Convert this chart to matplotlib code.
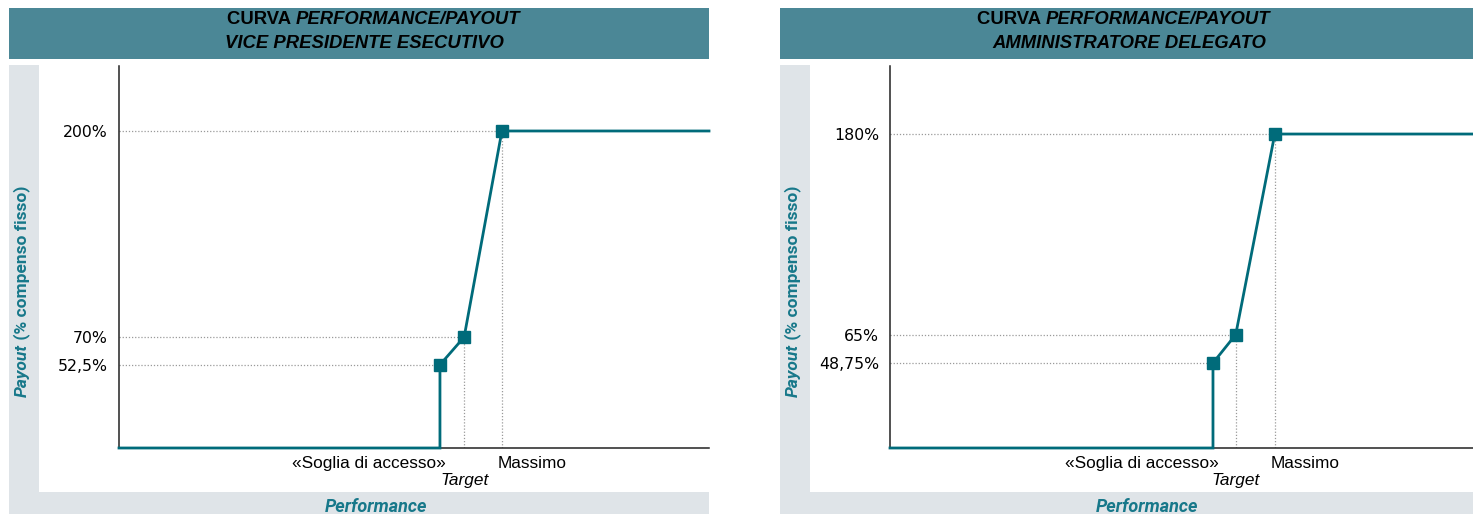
import matplotlib
matplotlib.use('Agg')
import matplotlib.pyplot as plt
from matplotlib.patches import Rectangle

# dati dei due pannelli
titoli = ['VICE PRESIDENTE ESECUTIVO', 'AMMINISTRATORE DELEGATO']
perf_vp = [54.4, 58.5, 64.9]        # soglia, target, massimo (scala 0-100)
payout_vp = [52.5, 70, 200]
etich_vp = ['52,5%', '70%', '200%']
perf_ad = [55.4, 59.3, 66.0]
payout_ad = [48.75, 65, 180]
etich_ad = ['48,75%', '65%', '180%']
note_x = ['«Soglia di accesso»', 'Target', 'Massimo']

W, H = 1473, 514
TEAL = '#006b7a'
BAR = '#4b8796'
GRIGIO = '#dfe4e8'
LAB = '#17788a'
SANS = ['Liberation Sans', 'DejaVu Sans']
TICK = ['Roboto', 'DejaVu Sans']

fig = plt.figure(figsize=(W / 100, H / 100), dpi=100)


def rett(x0, y0, x1, y1, col):
    fig.add_artist(Rectangle((x0 / W, 1 - y1 / H), (x1 - x0) / W, (y1 - y0) / H,
                             transform=fig.transFigure, color=col, lw=0, zorder=0))


def pannello(px0, px1, ax0, perf, payout, etich, titolo, ytop, split_x, cx):
    # sfondi
    rett(px0, 8, px1, 59, BAR)
    rett(px0, 65, px1, H, GRIGIO)
    rett(px0 + 30, 65, px1, 492, 'white')

    # titolo su due righe (stili misti)
    fig.text(split_x / W, 1 - 20 / H, 'CURVA ', ha='right', va='center',
             fontsize=13.3, fontweight='bold', family=SANS)
    fig.text(split_x / W, 1 - 20 / H, 'PERFORMANCE/PAYOUT', ha='left', va='center',
             fontsize=13.3, fontweight='bold', style='italic', family=SANS)
    fig.text(cx / W, 1 - 43 / H, titolo, ha='center', va='center',
             fontsize=13.3, fontweight='bold', style='italic', family=SANS)

    # etichetta asse y
    lx = px0 + 13
    fig.text(lx / W, 1 - 344 / H, 'Payout', rotation=90, ha='center', va='top',
             fontsize=12.5, fontweight='bold', style='italic', color=LAB, family=TICK)
    fig.text(lx / W, 1 - 344 / H, ' (% compenso fisso)', rotation=90, ha='center',
             va='bottom', fontsize=12.5, fontweight='bold', color=LAB, family=TICK)
    # etichetta asse x
    fig.text((px0 + 367) / W, 1 - 507 / H, 'Performance', ha='center', va='center',
             fontsize=13, fontweight='bold', style='italic', color=LAB, family=TICK)

    ax = fig.add_axes([ax0 / W, 1 - 448 / H, (px1 - ax0) / W, (448 - 66) / H])
    ax.set_facecolor('none')
    ax.set_xlim(0, 100)
    ax.set_ylim(0, ytop)
    for s in ['top', 'right']:
        ax.spines[s].set_visible(False)
    for s in ['left', 'bottom']:
        ax.spines[s].set_linewidth(1.1)
        ax.spines[s].set_color('#222222')
    ax.set_xticks([])
    ax.set_yticks(payout)
    ax.set_yticklabels(etich, family=['DejaVu Sans'], fontsize=11.3)
    ax.tick_params(axis='y', length=0, pad=8)

    soglia, target, massimo = perf
    # linee guida tratteggiate
    for x, y in zip(perf, payout):
        ax.plot([0, x], [y, y], ls=(0, (1, 1.5)), color='#9a9a9a', lw=0.9, zorder=1)
    for x, y in zip(perf[1:], payout[1:]):
        ax.plot([x, x], [0, y], ls=(0, (1, 1.5)), color='#9a9a9a', lw=0.9, zorder=1)

    # curva
    cx_ = [0, soglia, soglia, target, massimo, 100]
    cy_ = [0, 0, payout[0], payout[1], payout[2], payout[2]]
    ax.plot(cx_, cy_, color=TEAL, lw=2, clip_on=False, zorder=3,
            solid_joinstyle='miter')
    ax.plot(perf, payout, 's', color=TEAL, ms=8, clip_on=False, zorder=4)

    # note sull'asse x
    ax.annotate(note_x[0], xy=(soglia, 0), xytext=(6, -8), textcoords='offset pixels',
                ha='right', va='top', fontsize=12.4, family=SANS)
    ax.annotate(note_x[1], xy=(target, 0), xytext=(0, -25), textcoords='offset pixels',
                ha='center', va='top', fontsize=12.4, style='italic', family=SANS)
    ax.annotate(note_x[2], xy=(massimo, 0), xytext=(-4, -8), textcoords='offset pixels',
                ha='left', va='top', fontsize=12.4, family=SANS)
    return ax


pannello(9, 709, 119, perf_vp, payout_vp, etich_vp, titoli[0], 241, 296, 364)
pannello(780, W, 890, perf_ad, payout_ad, etich_ad, titoli[1], 219, 1046, 1129)

fig.savefig('out.png', dpi=100)
